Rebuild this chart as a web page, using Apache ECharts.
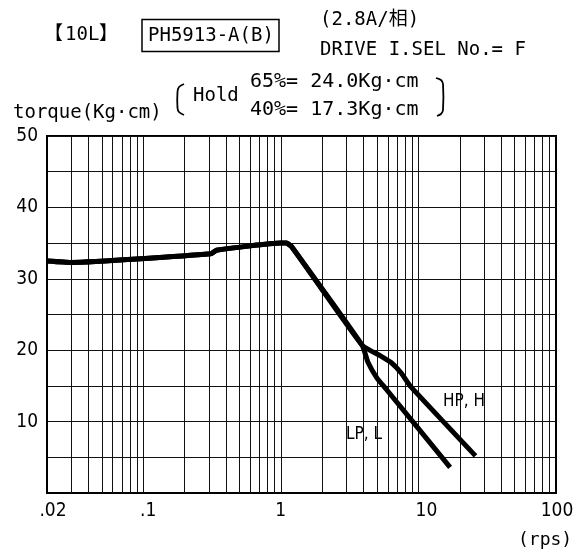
<!DOCTYPE html>
<html>
<head>
<meta charset="utf-8">
<script src="https://cdn.jsdelivr.net/npm/echarts@6/dist/echarts.min.js"></script>
<style>
  html, body { margin: 0; padding: 0; background: #fff; }
  #chart { width: 577px; height: 558px; }
</style>
</head>
<body>
<div id="chart"></div>
<script>
// Speed (rps) / torque (kg·cm) points of the pull-out torque curve
const commonPart = [[0.02, 32.5], [0.03, 32.3], [0.31, 33.5], [0.34, 34.0], [1.0, 35.0], [1.1, 35.0], [1.2, 34.5], [3.9, 20.7]];
const hpTail = [[5.3, 19.2], [6.4, 18.2], [7.5, 16.8], [8.8, 14.9], [26, 5.2]];
const lpTail = [[4.3, 18.3], [5.0, 16.1], [5.8, 14.6], [17, 3.6]];

// Log-paper grid and axis labels
const gridX = [0.03, 0.04, 0.05, 0.06, 0.07, 0.08, 0.09,
               0.1, 0.2, 0.3, 0.4, 0.5, 0.6, 0.7, 0.8, 0.9,
               1, 2, 3, 4, 5, 6, 7, 8, 9,
               10, 20, 30, 40, 50, 60, 70, 80, 90];
const xTickValues = [0.02, 0.1, 1, 10, 100];
const xTickLabels = ['.02', '.1', '1', '10', '100'];
const yLabelValues = [10, 20, 30, 40, 50];

const MONO = '"DejaVu Sans Mono", "Noto Sans CJK JP", monospace';
const NARROW = '"Liberation Sans Narrow", "DejaVu Sans Condensed", "Liberation Sans", sans-serif';

// small horizontal nudges for the printed speed labels
const xLabelShift = [12, 10, 0, 16, 2];
const xRich = {};
xLabelShift.forEach((s, i) => {
  xRich['t' + i] = { fontFamily: NARROW, fontSize: 19, color: '#000', padding: [0, 0, 0, s] };
});

function xLabel(v) {
  for (let i = 0; i < xTickValues.length; i++) {
    if (Math.abs(v - xTickValues[i]) / xTickValues[i] < 1e-6) return '{t' + i + '|' + xTickLabels[i] + '}';
  }
  return '';
}

function txt(text, x, y, size, family) {
  return {
    type: 'text', x: x, y: y, silent: true,
    style: { text: text, font: size + 'px ' + (family || MONO), fill: '#000', verticalAlign: 'middle', align: 'left' }
  };
}

const chart = echarts.init(document.getElementById('chart'), null, { renderer: 'canvas' });

chart.setOption({
  animation: false,
  backgroundColor: '#fff',
  grid: {
    left: 47, right: 21, top: 136, bottom: 65,
    show: true, borderColor: '#000', borderWidth: 2, backgroundColor: 'transparent'
  },
  xAxis: {
    type: 'log', logBase: 10, min: 0.02, max: 100,
    axisLine: { show: true, lineStyle: { color: '#000', width: 2 } },
    axisTick: { show: false },
    splitLine: { show: false },
    axisLabel: {
      color: '#000', fontFamily: NARROW, fontSize: 19, margin: 9,
      showMinLabel: true, showMaxLabel: true,
      formatter: xLabel, rich: xRich
    }
  },
  yAxis: {
    type: 'value', min: 0, max: 50, interval: 5,
    axisLine: { show: true, lineStyle: { color: '#000', width: 2 } },
    axisTick: { show: false },
    splitLine: { show: true, lineStyle: { color: '#111', width: 1 } },
    axisLabel: {
      color: '#000', fontFamily: NARROW, fontSize: 19, margin: 9,
      formatter: v => (yLabelValues.indexOf(v) >= 0 ? String(v) : '')
    }
  },
  series: [
    {
      name: 'grid',
      type: 'line',
      data: [],
      silent: true,
      markLine: {
        silent: true,
        symbol: ['none', 'none'],
        label: { show: false },
        lineStyle: { color: '#111', width: 1, type: 'solid' },
        emphasis: { disabled: true },
        data: gridX.map(v => ({ xAxis: v }))
      }
    },
    {
      name: 'HP, H',
      type: 'line',
      data: commonPart.concat(hpTail),
      showSymbol: false,
      silent: true,
      smooth: 0.15,
      lineStyle: { color: '#000', width: 5, join: 'round' },
      z: 5
    },
    {
      name: 'LP, L',
      type: 'line',
      data: commonPart.concat(lpTail),
      showSymbol: false,
      silent: true,
      smooth: 0.15,
      lineStyle: { color: '#000', width: 5, join: 'round' },
      z: 5
    }
  ],
  graphic: [
    txt('【', 44, 35, 19),
    txt('10L', 65, 35, 19),
    txt('】', 99, 35, 19),
    { type: 'rect', silent: true, shape: { x: 142, y: 19.5, width: 137, height: 32 },
      style: { fill: 'none', stroke: '#000', lineWidth: 1.5 } },
    txt('PH5913-A(B)', 148, 36, 19),
    txt('(2.8A/相)', 320, 20, 19),
    txt('DRIVE I.SEL No.= F', 320, 50, 19),
    txt('torque(Kg·cm)', 13, 113, 19),
    { type: 'polyline', silent: true,
      shape: { points: [[184, 84], [179, 87], [177.5, 92], [177.5, 108], [179, 112], [184, 115]], smooth: 0.3 },
      style: { fill: 'none', stroke: '#000', lineWidth: 1.8 } },
    txt('Hold', 193, 96, 19),
    txt('65%= 24.0Kg·cm', 250, 82, 20),
    txt('40%= 17.3Kg·cm', 250, 110, 20),
    { type: 'polyline', silent: true,
      shape: { points: [[436, 78], [441, 80], [443, 84], [443, 110], [441, 114], [437, 116]], smooth: 0.3 },
      style: { fill: 'none', stroke: '#000', lineWidth: 1.8 } },
    txt('HP, H', 443, 402, 17, NARROW),
    txt('LP, L', 346, 435, 17, NARROW),
    txt('(rps)', 518, 540, 18)
  ]
});
</script>
</body>
</html>
